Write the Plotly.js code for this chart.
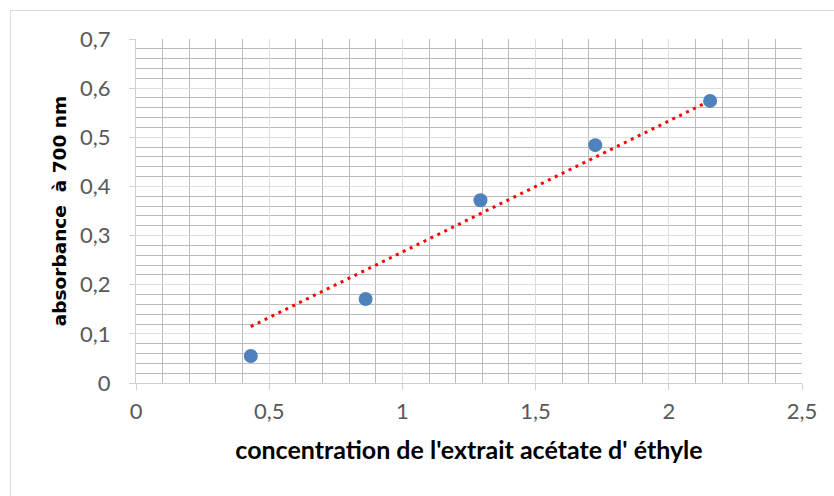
<!DOCTYPE html>
<html>
<head>
<meta charset="utf-8">
<script src="https://cdn.plot.ly/plotly-3.0.1.min.js"></script>
<style>
html,body{margin:0;padding:0;background:#fff;}
#wrap{position:relative;width:834px;height:496px;}
#chart{width:834px;height:496px;}
#frame{position:absolute;left:10px;top:10px;width:840px;height:500px;border:1px solid #d9d9d9;pointer-events:none;box-sizing:border-box;}
</style>
</head>
<body>
<div id="wrap"><div id="chart"></div><div id="frame"></div></div>
<script>
// data
const concentration = [0.431, 0.862, 1.293, 1.724, 2.155];
const absorbance = [0.055, 0.171, 0.372, 0.484, 0.574];
const xTitle = "concentration de l'extrait acétate d' éthyle";
const yTitle = "absorbance \u00a0à 700 nm";

// linear trendline forced through origin (as in the source spreadsheet)
let sxy = 0, sxx = 0;
for (let i = 0; i < concentration.length; i++) { sxy += concentration[i]*absorbance[i]; sxx += concentration[i]*concentration[i]; }
const slope = sxy / sxx;
const xmin = Math.min(...concentration), xmax = Math.max(...concentration);
const trendX = [xmin, xmax];
const trendY = trendX.map(v => slope * v);

const majorGrid = '#dedede';
const minorGrid = '#bcbcbc';

const traces = [
  {x: trendX, y: trendY, mode: 'lines', type: 'scatter',
   line: {color: '#ff0000', width: 3, dash: '3px,4.7px'}, hoverinfo: 'skip'},
  {x: concentration, y: absorbance, mode: 'markers', type: 'scatter',
   marker: {color: '#4f81bd', size: 14}}
];

const layout = {
  width: 834, height: 496,
  margin: {l: 136, r: 32, t: 39, b: 113},
  paper_bgcolor: '#fff', plot_bgcolor: '#fff',
  separators: ', ',
  showlegend: false,
  font: {family: 'Lato, "Open Sans", sans-serif', color: '#595959', size: 22},
  xaxis: {
    range: [0, 2.5], dtick: 0.5, tick0: 0,
    showgrid: true, gridcolor: majorGrid, gridwidth: 1,
    zeroline: false, showline: true, linecolor: '#d0d0d0', linewidth: 1,
    ticks: 'outside', ticklen: 6, tickcolor: '#d0d0d0',
    minor: {dtick: 0.1, showgrid: true, gridcolor: minorGrid, gridwidth: 1, ticks: ''},
    tickfont: {size: 22, color: '#595959'},
    ticklabelstandoff: 3,
    title: {text: xTitle, font: {family: 'Lato, sans-serif', size: 25, color: '#000', weight: 'bold'}, standoff: 18}
  },
  yaxis: {
    range: [0, 0.7], dtick: 0.1, tick0: 0,
    showgrid: true, gridcolor: majorGrid, gridwidth: 1,
    zeroline: false, showline: true, linecolor: '#d0d0d0', linewidth: 1,
    ticks: 'outside', ticklen: 6, tickcolor: '#d0d0d0',
    minor: {dtick: 0.02, showgrid: true, gridcolor: minorGrid, gridwidth: 1, ticks: ''},
    tickfont: {size: 22, color: '#595959'},
    ticklabelstandoff: 14,
    title: {text: yTitle, font: {family: '"DejaVu Sans", sans-serif', size: 18.5, color: '#000', weight: 'bold'}, standoff: 8}
  }
};

Plotly.newPlot('chart', traces, layout, {staticPlot: true});
</script>
</body>
</html>
